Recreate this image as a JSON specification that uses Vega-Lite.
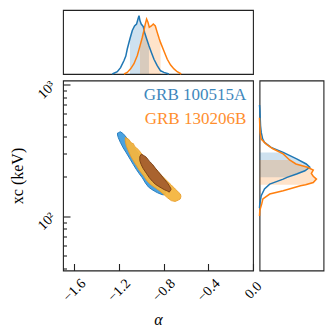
{
  "$schema": "https://vega.github.io/schema/vega-lite/v6.json",
  "padding": {"left": 9, "top": 9, "right": 5, "bottom": 5},
  "config": {
    "font": "Liberation Serif",
    "view": {"stroke": "#222", "strokeWidth": 1.1},
    "axis": {"labelFont": "Liberation Serif", "titleFont": "Liberation Serif", "labelColor": "#000", "titleColor": "#000", "grid": false, "domain": false, "tickColor": "#222", "tickWidth": 1.1, "labelFontSize": 14, "titleFontSize": 16, "titleFontWeight": "normal", "labelFlush": false, "labelOverlap": false}
  },
  "datasets": {
    "top": [
      {"grb": "GRB 100515A", "alpha": -1.259, "d": 0},
      {"grb": "GRB 100515A", "alpha": -1.214, "d": 0.036},
      {"grb": "GRB 100515A", "alpha": -1.185, "d": 0.10},
      {"grb": "GRB 100515A", "alpha": -1.154, "d": 0.21},
      {"grb": "GRB 100515A", "alpha": -1.138, "d": 0.28},
      {"grb": "GRB 100515A", "alpha": -1.125, "d": 0.39},
      {"grb": "GRB 100515A", "alpha": -1.101, "d": 0.55},
      {"grb": "GRB 100515A", "alpha": -1.080, "d": 0.68},
      {"grb": "GRB 100515A", "alpha": -1.060, "d": 0.75},
      {"grb": "GRB 100515A", "alpha": -1.042, "d": 0.78},
      {"grb": "GRB 100515A", "alpha": -1.029, "d": 0.86},
      {"grb": "GRB 100515A", "alpha": -1.020, "d": 0.91},
      {"grb": "GRB 100515A", "alpha": -1.011, "d": 0.83},
      {"grb": "GRB 100515A", "alpha": -1.000, "d": 0.78},
      {"grb": "GRB 100515A", "alpha": -0.982, "d": 0.74},
      {"grb": "GRB 100515A", "alpha": -0.970, "d": 0.65},
      {"grb": "GRB 100515A", "alpha": -0.952, "d": 0.55},
      {"grb": "GRB 100515A", "alpha": -0.931, "d": 0.44},
      {"grb": "GRB 100515A", "alpha": -0.910, "d": 0.34},
      {"grb": "GRB 100515A", "alpha": -0.886, "d": 0.23},
      {"grb": "GRB 100515A", "alpha": -0.857, "d": 0.13},
      {"grb": "GRB 100515A", "alpha": -0.827, "d": 0.05},
      {"grb": "GRB 100515A", "alpha": -0.797, "d": 0.025},
      {"grb": "GRB 100515A", "alpha": -0.752, "d": 0},
      {"grb": "GRB 130206B", "alpha": -1.154, "d": 0},
      {"grb": "GRB 130206B", "alpha": -1.125, "d": 0.025},
      {"grb": "GRB 130206B", "alpha": -1.095, "d": 0.08},
      {"grb": "GRB 130206B", "alpha": -1.065, "d": 0.16},
      {"grb": "GRB 130206B", "alpha": -1.035, "d": 0.29},
      {"grb": "GRB 130206B", "alpha": -1.011, "d": 0.44},
      {"grb": "GRB 130206B", "alpha": -0.991, "d": 0.57},
      {"grb": "GRB 130206B", "alpha": -0.976, "d": 0.68},
      {"grb": "GRB 130206B", "alpha": -0.964, "d": 0.78},
      {"grb": "GRB 130206B", "alpha": -0.952, "d": 0.86},
      {"grb": "GRB 130206B", "alpha": -0.940, "d": 0.81},
      {"grb": "GRB 130206B", "alpha": -0.928, "d": 0.73},
      {"grb": "GRB 130206B", "alpha": -0.910, "d": 0.75},
      {"grb": "GRB 130206B", "alpha": -0.892, "d": 0.78},
      {"grb": "GRB 130206B", "alpha": -0.874, "d": 0.75},
      {"grb": "GRB 130206B", "alpha": -0.857, "d": 0.65},
      {"grb": "GRB 130206B", "alpha": -0.839, "d": 0.55},
      {"grb": "GRB 130206B", "alpha": -0.827, "d": 0.49},
      {"grb": "GRB 130206B", "alpha": -0.797, "d": 0.36},
      {"grb": "GRB 130206B", "alpha": -0.767, "d": 0.23},
      {"grb": "GRB 130206B", "alpha": -0.737, "d": 0.14},
      {"grb": "GRB 130206B", "alpha": -0.707, "d": 0.08},
      {"grb": "GRB 130206B", "alpha": -0.678, "d": 0.036},
      {"grb": "GRB 130206B", "alpha": -0.642, "d": 0}
    ],
    "right": [
      {"grb": "GRB 100515A", "xc": 700, "d": 0},
      {"grb": "GRB 100515A", "xc": 652, "d": 0.005},
      {"grb": "GRB 100515A", "xc": 540, "d": 0.012},
      {"grb": "GRB 100515A", "xc": 486, "d": 0.016},
      {"grb": "GRB 100515A", "xc": 433, "d": 0.027},
      {"grb": "GRB 100515A", "xc": 385, "d": 0.05},
      {"grb": "GRB 100515A", "xc": 363, "d": 0.078},
      {"grb": "GRB 100515A", "xc": 333, "d": 0.18},
      {"grb": "GRB 100515A", "xc": 305, "d": 0.37},
      {"grb": "GRB 100515A", "xc": 272, "d": 0.58},
      {"grb": "GRB 100515A", "xc": 249, "d": 0.73},
      {"grb": "GRB 100515A", "xc": 235, "d": 0.785},
      {"grb": "GRB 100515A", "xc": 221, "d": 0.71},
      {"grb": "GRB 100515A", "xc": 209, "d": 0.58},
      {"grb": "GRB 100515A", "xc": 197, "d": 0.43},
      {"grb": "GRB 100515A", "xc": 191, "d": 0.37},
      {"grb": "GRB 100515A", "xc": 175, "d": 0.16},
      {"grb": "GRB 100515A", "xc": 161, "d": 0.078},
      {"grb": "GRB 100515A", "xc": 143, "d": 0.027},
      {"grb": "GRB 100515A", "xc": 124, "d": 0.005},
      {"grb": "GRB 100515A", "xc": 115, "d": 0},
      {"grb": "GRB 130206B", "xc": 560, "d": 0},
      {"grb": "GRB 130206B", "xc": 486, "d": 0.005},
      {"grb": "GRB 130206B", "xc": 433, "d": 0.01},
      {"grb": "GRB 130206B", "xc": 385, "d": 0.027},
      {"grb": "GRB 130206B", "xc": 353, "d": 0.105},
      {"grb": "GRB 130206B", "xc": 325, "d": 0.21},
      {"grb": "GRB 130206B", "xc": 297, "d": 0.37},
      {"grb": "GRB 130206B", "xc": 267, "d": 0.47},
      {"grb": "GRB 130206B", "xc": 249, "d": 0.57},
      {"grb": "GRB 130206B", "xc": 235, "d": 0.75},
      {"grb": "GRB 130206B", "xc": 224, "d": 0.84},
      {"grb": "GRB 130206B", "xc": 211, "d": 0.81},
      {"grb": "GRB 130206B", "xc": 201, "d": 0.84},
      {"grb": "GRB 130206B", "xc": 191, "d": 0.89},
      {"grb": "GRB 130206B", "xc": 180, "d": 0.84},
      {"grb": "GRB 130206B", "xc": 173, "d": 0.72},
      {"grb": "GRB 130206B", "xc": 170, "d": 0.64},
      {"grb": "GRB 130206B", "xc": 156, "d": 0.37},
      {"grb": "GRB 130206B", "xc": 147, "d": 0.16},
      {"grb": "GRB 130206B", "xc": 135, "d": 0.053},
      {"grb": "GRB 130206B", "xc": 124, "d": 0.035},
      {"grb": "GRB 130206B", "xc": 110, "d": 0.005},
      {"grb": "GRB 130206B", "xc": 100, "d": 0}
    ],
    "contours": [
      {"level": "blue", "alpha": -1.212, "hi": 428.3, "lo": 413.5},
      {"level": "blue", "alpha": -1.205, "hi": 430.5, "lo": 394.5},
      {"level": "blue", "alpha": -1.187, "hi": 438.1, "lo": 363.9},
      {"level": "blue", "alpha": -1.161, "hi": 423.1, "lo": 329.9},
      {"level": "blue", "alpha": -1.134, "hi": 397.9, "lo": 302.9},
      {"level": "blue", "alpha": -1.098, "hi": 361.4, "lo": 269.4},
      {"level": "blue", "alpha": -1.071, "hi": 337.0, "lo": 246.4},
      {"level": "blue", "alpha": -1.044, "hi": 314.2, "lo": 226.2},
      {"level": "blue", "alpha": -1.018, "hi": 293.0, "lo": 210.1},
      {"level": "blue", "alpha": -0.990, "hi": 274.6, "lo": 195.2},
      {"level": "blue", "alpha": -0.963, "hi": 254.7, "lo": 178.6},
      {"level": "blue", "alpha": -0.936, "hi": 237.2, "lo": 166.5},
      {"level": "blue", "alpha": -0.910, "hi": 221.0, "lo": 160.2},
      {"level": "blue", "alpha": -0.883, "hi": 206.1, "lo": 155.0},
      {"level": "blue", "alpha": -0.857, "hi": 192.2, "lo": 150.7},
      {"level": "blue", "alpha": -0.830, "hi": 179.2, "lo": 147.3},
      {"level": "blue", "alpha": -0.803, "hi": 166.8, "lo": 144.8},
      {"level": "blue", "alpha": -0.785, "hi": 156.1, "lo": 148.1},
      {"level": "orange", "alpha": -1.143, "hi": 396.6, "lo": 374.3},
      {"level": "orange", "alpha": -1.134, "hi": 393.1, "lo": 342.9},
      {"level": "orange", "alpha": -1.116, "hi": 386.3, "lo": 314.2},
      {"level": "orange", "alpha": -1.098, "hi": 369.8, "lo": 290.4},
      {"level": "orange", "alpha": -1.085, "hi": 358.0, "lo": 276.0},
      {"level": "orange", "alpha": -1.071, "hi": 355.9, "lo": 264.2},
      {"level": "orange", "alpha": -1.058, "hi": 337.0, "lo": 253.0},
      {"level": "orange", "alpha": -1.044, "hi": 331.1, "lo": 242.6},
      {"level": "orange", "alpha": -1.018, "hi": 314.2, "lo": 223.4},
      {"level": "orange", "alpha": -0.982, "hi": 286.4, "lo": 204.3},
      {"level": "orange", "alpha": -0.946, "hi": 265.6, "lo": 184.2},
      {"level": "orange", "alpha": -0.910, "hi": 247.7, "lo": 172.2},
      {"level": "orange", "alpha": -0.874, "hi": 230.5, "lo": 163.9},
      {"level": "orange", "alpha": -0.839, "hi": 212.3, "lo": 156.3},
      {"level": "orange", "alpha": -0.803, "hi": 198.0, "lo": 147.3},
      {"level": "orange", "alpha": -0.767, "hi": 184.6, "lo": 138.1},
      {"level": "orange", "alpha": -0.731, "hi": 172.2, "lo": 131.0},
      {"level": "orange", "alpha": -0.696, "hi": 160.5, "lo": 129.2},
      {"level": "orange", "alpha": -0.669, "hi": 152.5, "lo": 132.2},
      {"level": "orange", "alpha": -0.651, "hi": 147.3, "lo": 134.9},
      {"level": "orange", "alpha": -0.645, "hi": 141.8, "lo": 141.0},
      {"level": "inner", "alpha": -1.013, "hi": 282.9, "lo": 263.8},
      {"level": "inner", "alpha": -1.000, "hi": 295.6, "lo": 245.9},
      {"level": "inner", "alpha": -0.982, "hi": 290.4, "lo": 229.4},
      {"level": "inner", "alpha": -0.955, "hi": 280.4, "lo": 212.0},
      {"level": "inner", "alpha": -0.928, "hi": 261.5, "lo": 195.9},
      {"level": "inner", "alpha": -0.901, "hi": 248.2, "lo": 184.2},
      {"level": "inner", "alpha": -0.874, "hi": 231.4, "lo": 174.8},
      {"level": "inner", "alpha": -0.848, "hi": 217.6, "lo": 168.8},
      {"level": "inner", "alpha": -0.821, "hi": 204.6, "lo": 163.6},
      {"level": "inner", "alpha": -0.794, "hi": 190.8, "lo": 158.8},
      {"level": "inner", "alpha": -0.767, "hi": 179.5, "lo": 155.2},
      {"level": "inner", "alpha": -0.749, "hi": 170.3, "lo": 152.0},
      {"level": "inner", "alpha": -0.734, "hi": 161.0, "lo": 159.0}
    ],
    "labels": [
      {"grb": "GRB 100515A", "alpha": -0.06, "xc": 760},
      {"grb": "GRB 130206B", "alpha": -0.06, "xc": 504}
    ]
  },
  "columns": 2,
  "spacing": 6.5,
  "bounds": "flush",
  "align": "each",
  "concat": [
    {
      "width": 190,
      "height": 64,
      "data": {"name": "top"},
      "layer": [
        {
          "transform": [{"filter": "(datum.grb == 'GRB 100515A' && datum.alpha >= -1.1015 && datum.alpha <= -0.9305) || (datum.grb == 'GRB 130206B' && datum.alpha >= -1.0115 && datum.alpha <= -0.8265)"}],
          "mark": {"type": "area", "opacity": 0.22},
          "encoding": {
            "x": {"field": "alpha", "type": "quantitative", "scale": {"domain": [-1.7, 0], "nice": false, "zero": false}, "axis": null},
            "y": {"field": "d", "type": "quantitative", "stack": null, "scale": {"domain": [0, 1], "nice": false}, "axis": null},
            "color": {"field": "grb", "type": "nominal", "scale": {"domain": ["GRB 100515A", "GRB 130206B"], "range": ["#1f77b4", "#ff7f0e"]}, "legend": null}
          }
        },
        {
          "mark": {"type": "line", "strokeWidth": 1.5},
          "encoding": {
            "x": {"field": "alpha", "type": "quantitative", "scale": {"domain": [-1.7, 0], "nice": false, "zero": false}, "axis": null},
            "y": {"field": "d", "type": "quantitative", "scale": {"domain": [0, 1], "nice": false}, "axis": null},
            "color": {"field": "grb", "type": "nominal", "scale": {"domain": ["GRB 100515A", "GRB 130206B"], "range": ["#1f77b4", "#ff7f0e"]}, "legend": null}
          }
        }
      ]
    },
    {
      "width": 64,
      "height": 64,
      "view": {"stroke": null},
      "data": {"values": [{"a": 0}]},
      "mark": {"type": "point", "opacity": 0},
      "encoding": {
        "x": {"field": "a", "type": "quantitative", "axis": null},
        "y": {"field": "a", "type": "quantitative", "axis": null}
      }
    },
    {
      "width": 190,
      "height": 190,
      "layer": [
        {
          "data": {"name": "contours"},
          "transform": [{"filter": "datum.level == 'blue'"}],
          "mark": {"type": "area", "fill": "#4aa2e0", "stroke": "#2a7fc0", "strokeWidth": 1, "opacity": 1},
          "encoding": {
            "x": {"field": "alpha", "type": "quantitative", "scale": {"domain": [-1.7, 0], "nice": false, "zero": false},
              "axis": {"title": "α", "titleFontStyle": "italic", "titlePadding": 8, "values": [-1.6, -1.2, -0.8, -0.4, 0], "format": ".1f", "labelAngle": -45, "labelAlign": "center", "labelBaseline": "middle", "labelPadding": 26.5, "tickSize": -7}},
            "y": {"field": "hi", "type": "quantitative", "scale": {"type": "log", "domain": [38.5, 1075], "nice": false},
              "axis": {"title": "xc (keV)", "titlePadding": 9, "values": [40, 50, 60, 70, 80, 90, 100, 200, 300, 400, 500, 600, 700, 800, 900, 1000],
                "labelExpr": "datum.value == 100 ? '10²' : datum.value == 1000 ? '10³' : ''",
                "tickSize": {"condition": {"test": "datum.value == 100 || datum.value == 1000", "value": -7}, "value": -3.5},
                "labelAngle": -45, "labelAlign": "center", "labelBaseline": "middle", "labelPadding": 23.7, "labelOffset": 5}},
            "y2": {"field": "lo"}
          }
        },
        {
          "data": {"name": "contours"},
          "transform": [{"filter": "datum.level == 'orange'"}],
          "mark": {"type": "area", "fill": "#f5b63f", "stroke": "#eb9f2a", "strokeWidth": 1, "opacity": 0.95},
          "encoding": {
            "x": {"field": "alpha", "type": "quantitative"},
            "y": {"field": "hi", "type": "quantitative"},
            "y2": {"field": "lo"}
          }
        },
        {
          "data": {"name": "contours"},
          "transform": [{"filter": "datum.level == 'inner'"}],
          "mark": {"type": "area", "fill": "#a9632f", "stroke": "#7d4218", "strokeWidth": 1, "opacity": 1},
          "encoding": {
            "x": {"field": "alpha", "type": "quantitative"},
            "y": {"field": "hi", "type": "quantitative"},
            "y2": {"field": "lo"}
          }
        },
        {
          "data": {"name": "labels"},
          "mark": {"type": "text", "align": "right", "baseline": "alphabetic", "fontSize": 17, "font": "Liberation Serif", "opacity": 0.88},
          "encoding": {
            "x": {"field": "alpha", "type": "quantitative"},
            "y": {"field": "xc", "type": "quantitative"},
            "text": {"field": "grb"},
            "color": {"field": "grb", "type": "nominal", "scale": {"domain": ["GRB 100515A", "GRB 130206B"], "range": ["#1f77b4", "#ff7f0e"]}, "legend": null}
          }
        }
      ]
    },
    {
      "width": 64,
      "height": 190,
      "data": {"name": "right"},
      "layer": [
        {
          "transform": [{"filter": "(datum.grb == 'GRB 100515A' && datum.xc >= 196 && datum.xc <= 306) || (datum.grb == 'GRB 130206B' && datum.xc >= 172 && datum.xc <= 268)"}],
          "mark": {"type": "area", "orient": "horizontal", "opacity": 0.22},
          "encoding": {
            "y": {"field": "xc", "type": "quantitative", "scale": {"type": "log", "domain": [38.5, 1075], "nice": false}, "axis": null},
            "x": {"field": "d", "type": "quantitative", "stack": null, "scale": {"domain": [0, 1], "nice": false}, "axis": null},
            "color": {"field": "grb", "type": "nominal", "scale": {"domain": ["GRB 100515A", "GRB 130206B"], "range": ["#1f77b4", "#ff7f0e"]}, "legend": null}
          }
        },
        {
          "mark": {"type": "line", "strokeWidth": 1.5, "orient": "horizontal"},
          "encoding": {
            "y": {"field": "xc", "type": "quantitative", "scale": {"type": "log", "domain": [38.5, 1075], "nice": false}, "axis": null},
            "x": {"field": "d", "type": "quantitative", "scale": {"domain": [0, 1], "nice": false}, "axis": null},
            "order": {"field": "xc", "type": "quantitative"},
            "color": {"field": "grb", "type": "nominal", "scale": {"domain": ["GRB 100515A", "GRB 130206B"], "range": ["#1f77b4", "#ff7f0e"]}, "legend": null}
          }
        }
      ]
    }
  ]
}
